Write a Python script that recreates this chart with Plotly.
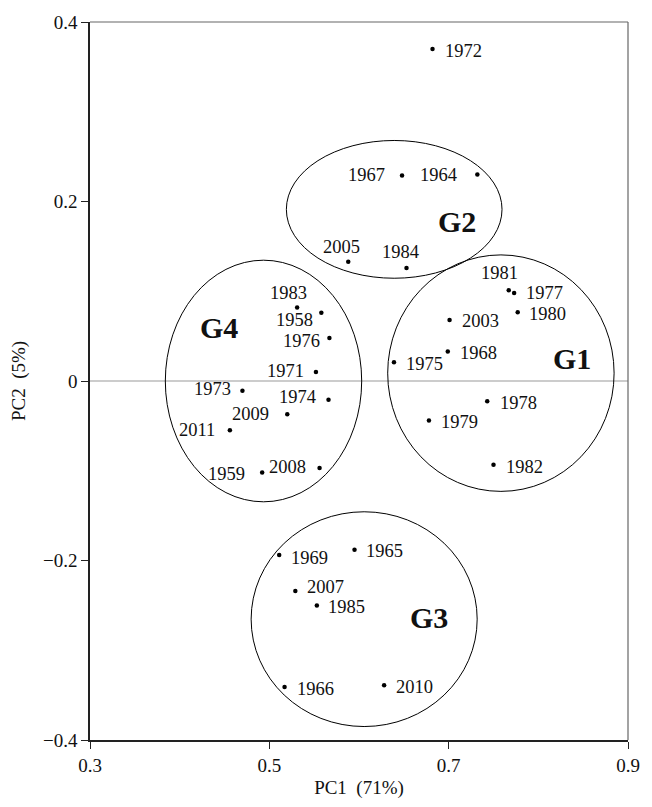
import plotly.graph_objects as go

# PCA scores per year
years = ["1972", "1964", "1967", "2005", "1984",
         "1981", "1977", "1980", "2003", "1968", "1975", "1978", "1979", "1982",
         "1983", "1958", "1976", "1971", "1973", "1974", "2009", "2011", "1959", "2008",
         "1969", "1965", "2007", "1985", "1966", "2010"]
pc1 = [0.682, 0.732, 0.648, 0.588, 0.653,
       0.767, 0.773, 0.777, 0.701, 0.699, 0.639, 0.743, 0.678, 0.750,
       0.531, 0.558, 0.567, 0.552, 0.470, 0.566, 0.520, 0.456, 0.492, 0.556,
       0.511, 0.595, 0.529, 0.553, 0.517, 0.628]
pc2 = [0.370, 0.230, 0.229, 0.133, 0.126,
       0.101, 0.098, 0.0765, 0.068, 0.033, 0.021, -0.0225, -0.044, -0.0934,
       0.082, 0.076, 0.048, 0.010, -0.011, -0.021, -0.037, -0.055, -0.102, -0.097,
       -0.194, -0.188, -0.234, -0.250, -0.341, -0.339]

# label offsets (pixels, text centre relative to the point; +dy is downward)
label_offsets = {
    "1972": (31, 1.5), "1964": (-39, -1), "1967": (-36, -1), "2005": (-7, -16), "1984": (-6, -17),
    "1981": (-9, -18.5), "1977": (30, -1), "1980": (30, 1), "2003": (31, 0.5), "1968": (31, 0.3),
    "1975": (31, 0.6), "1978": (31, 0.7), "1979": (30.5, 1), "1982": (31, 1),
    "1983": (-9, -15.5), "1958": (-27, 6), "1976": (-28, 2.3), "1971": (-30, -2), "1973": (-30, -2.4),
    "1974": (-31, -3.7), "2009": (-37, -1), "2011": (-33, -1), "1959": (-36, 0), "2008": (-32.5, -2),
    "1969": (30, 1.6), "1965": (30, 0.6), "2007": (30, -4.7), "1985": (30, 0.6), "1966": (30.5, 0.7),
    "2010": (30, 0.7),
}

# cluster outlines (x0, x1, y0, y1) and label positions
groups = ["G1", "G2", "G3", "G4"]
group_bounds = {
    "G1": (0.632, 0.8845, -0.123, 0.1405),
    "G2": (0.519, 0.7595, 0.1145, 0.268),
    "G3": (0.4797, 0.7318, -0.385, -0.1457),
    "G4": (0.384, 0.603, -0.1346, 0.1346),
}
group_label_pos = {
    "G1": (0.837, 0.026),
    "G2": (0.709, 0.179),
    "G3": (0.678, -0.2625),
    "G4": (0.4443, 0.061),
}

x_ticks = [0.3, 0.5, 0.7, 0.9]
x_ticktext = ["0.3", "0.5", "0.7", "0.9"]
y_ticks = [-0.4, -0.2, 0, 0.2, 0.4]
y_ticktext = ["\u22120.4", "\u22120.2", "0", "0.2", "0.4"]

FONT = "Liberation Serif, Times New Roman, serif"
INK = "#111111"

fig = go.Figure()

fig.add_trace(go.Scatter(
    x=pc1, y=pc2, mode="markers",
    marker=dict(size=4.5, color="black"),
    hoverinfo="text", text=years, showlegend=False,
))

shapes = []
# zero reference line
shapes.append(dict(type="line", xref="paper", yref="y", x0=0, x1=1, y0=0, y1=0,
                   line=dict(color="#999999", width=1), layer="below"))
# top and right frame
shapes.append(dict(type="line", xref="paper", yref="paper", x0=0, x1=1, y0=1, y1=1,
                   line=dict(color="#666666", width=1.2)))
shapes.append(dict(type="line", xref="paper", yref="paper", x0=1, x1=1, y0=0, y1=1,
                   line=dict(color="#666666", width=1.2)))
for g in groups:
    x0, x1, y0, y1 = group_bounds[g]
    shapes.append(dict(type="circle", xref="x", yref="y", x0=x0, x1=x1, y0=y0, y1=y1,
                       line=dict(color="black", width=1)))

annotations = []
for yr, xv, yv in zip(years, pc1, pc2):
    dx, dy = label_offsets[yr]
    annotations.append(dict(
        x=xv, y=yv, xref="x", yref="y", text=yr, showarrow=False,
        xanchor="center", yanchor="middle", xshift=dx, yshift=-dy - 1,
        font=dict(family=FONT, size=18.5, color=INK),
    ))
for g in groups:
    gx, gy = group_label_pos[g]
    annotations.append(dict(
        x=gx, y=gy, xref="x", yref="y", text="<b>%s</b>" % g, showarrow=False,
        xanchor="center", yanchor="middle", yshift=-1,
        font=dict(family=FONT, size=30, color=INK),
    ))

fig.update_layout(
    width=652, height=807,
    margin=dict(l=90, r=14, t=16, b=61),
    plot_bgcolor="white", paper_bgcolor="white",
    font=dict(family=FONT, size=19, color=INK),
    shapes=shapes, annotations=annotations,
    showlegend=False,
)
fig.update_xaxes(
    range=[0.3, 0.9], tickvals=x_ticks, ticktext=x_ticktext,
    showgrid=False, zeroline=False, showline=True, linecolor="#222222", linewidth=1.5,
    ticks="outside", ticklen=7, tickwidth=1.2, tickcolor="#222222",
    tickfont=dict(family=FONT, size=19, color=INK),
    title=dict(text="PC1\u00a0 (71%)", font=dict(family=FONT, size=19, color=INK), standoff=6),
)
fig.update_yaxes(
    range=[-0.4, 0.4], tickvals=y_ticks, ticktext=y_ticktext,
    showgrid=False, zeroline=False, showline=True, linecolor="#222222", linewidth=1.5,
    ticks="outside", ticklen=7, tickwidth=1.2, tickcolor="#222222",
    tickfont=dict(family=FONT, size=19, color=INK),
    title=dict(text="PC2\u00a0 (5%)", font=dict(family=FONT, size=19, color=INK), standoff=12),
)

fig.write_html("out.html")
